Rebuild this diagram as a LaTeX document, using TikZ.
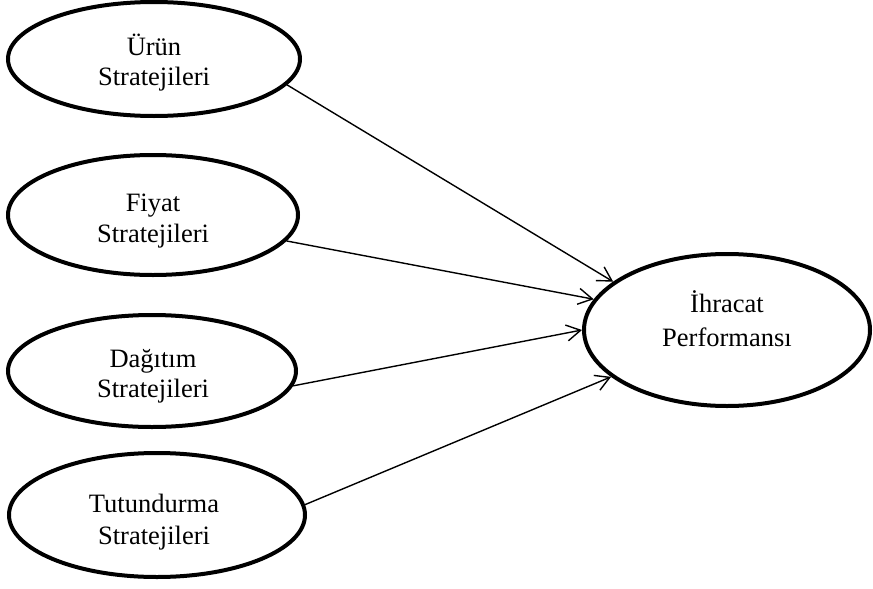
\documentclass[tikz,border=0pt]{standalone}
\usepackage{fontspec}
\setmainfont{Liberation Serif}
\usetikzlibrary{shapes.geometric,arrows.meta}
\begin{document}
\begin{tikzpicture}[x=1pt,y=-1pt,
  ell/.style={draw=black, line width=4pt, ellipse, inner sep=0pt},
  lbl/.style={align=center, inner sep=0pt, font=\fontsize{26.5}{30}\selectfont},
  arr/.style={line width=1.4pt, -{Straight Barb[length=14pt,width=16pt]}}]
\useasboundingbox (0,0) rectangle (873,589);
\node[ell, minimum width=292pt, minimum height=114pt] (e1) at (154,59) {};
\node[ell, minimum width=290pt, minimum height=120pt] (e2) at (153,215) {};
\node[ell, minimum width=288pt, minimum height=112pt] (e3) at (152,371) {};
\node[ell, minimum width=296pt, minimum height=124pt] (e4) at (157,515) {};
\node[ell, minimum width=286pt, minimum height=152pt] (e5) at (727,330) {};
\node[lbl] (t1) at (154,63) {Ürün\\Stratejileri};
\node[lbl, font=\fontsize{26.5}{31}\selectfont] (t2) at (153,221.4) {Fiyat\\Stratejileri};
\node[lbl] (t3) at (153,376) {Dağıtım\\Stratejileri};
\node[lbl, font=\fontsize{26.5}{32}\selectfont] (t4) at (154,522) {Tutundurma\\Stratejileri};
\node[lbl, font=\fontsize{26.5}{34}\selectfont] (t5) at (727,319) {İhracat\\Performansı};
\draw[arr] (e1.-11.1) -- (e5.157.7);
\draw[arr] (e2.-11.5) -- (e5.167);
\draw[arr] (e3.-6.2) -- (e5.180);
\draw[arr] (e4.4.5) -- (e5.202.8);
\end{tikzpicture}
\end{document}
